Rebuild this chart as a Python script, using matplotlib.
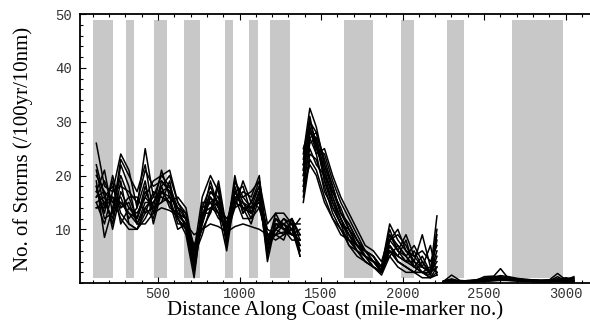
import numpy as np
import matplotlib
matplotlib.use("Agg")
from matplotlib import pyplot as plt
from matplotlib.ticker import MultipleLocator

# shaded stretches of coast (mile-marker start, end)
band_starts = [99, 303, 476, 656, 910, 1058, 1188, 1640, 1993, 2271, 2673]
band_ends = [223, 353, 557, 755, 959, 1114, 1312, 1819, 2073, 2376, 2983]

# mile markers of the three computed stretches
x_a = [121, 171, 221, 271, 321, 371, 421, 471, 521, 571, 621, 671, 721,
       771, 821, 871, 921, 971, 1021, 1071, 1121, 1171, 1221, 1271, 1321, 1371]
x_b = [1391, 1431, 1471, 1521, 1571, 1621, 1671, 1721, 1771, 1821, 1871,
       1921, 1971, 2021, 2071, 2121, 2171, 2211]
x_c = [2251, 2301, 2351, 2401, 2451, 2501, 2551, 2601, 2651, 2701, 2751,
       2801, 2851, 2901, 2951, 3001, 3051]

# storms per 100yr per 10nm, one row per model run
runs_a = [
    [26, 18, 17, 24, 21, 14, 25, 16, 20, 21, 15, 12, 5, 12, 19, 14, 9, 20, 13, 15, 19, 8, 10, 12, 10, 7],
    [19, 8.5, 14, 20, 16, 12, 18, 13, 19, 17, 13, 11, 3, 14, 15, 16, 7, 17, 18, 13, 17, 6, 11, 10, 11, 6],
    [17, 15, 12, 22, 18, 11, 15, 15, 17, 18, 14, 10, 4, 11, 16, 13, 10, 15, 14, 14, 15, 7, 9, 11, 9, 9],
    [15, 16, 18, 13, 11, 10, 13, 17, 16, 15, 12, 9, 1, 13, 14, 15, 8, 16, 12, 12, 14, 9, 8, 9, 10, 12],
    [14, 14, 16, 12, 10, 10, 14, 12, 18, 14, 13, 12, 6, 10, 13, 18, 9, 14, 15, 13, 16, 5, 12, 10, 8, 8],
    [18, 12, 13, 15, 13, 12, 17, 14, 21, 16, 11, 11, 3, 15, 15, 12, 11, 18, 13, 15, 18, 8, 10, 9, 12, 5],
    [14, 15, 16, 15, 13, 11, 11, 13, 14, 13.5, 12.5, 11, 9, 10, 11, 10.5, 9.5, 10.5, 11, 10.5, 10, 9, 9, 9.5, 9, 8],
    [20, 17, 10, 17, 14, 13, 16, 14, 15, 19, 12, 10, 2, 12, 17, 15, 8, 19, 15, 12, 17, 4, 11, 11, 10, 6],
    [16, 19, 15, 16, 12, 14, 19, 11, 17, 16, 14, 13, 5, 9, 14, 13, 6, 16, 16, 14, 15, 7, 13, 10, 9, 10],
    [18, 13, 20, 14, 15, 11, 14, 16, 16, 15, 10, 11, 4, 14, 18, 14, 9, 15, 17, 16, 20, 6, 10, 12, 11, 7],
    [22, 16, 11, 19, 11, 10, 12, 15, 18, 20, 15, 13, 5, 13, 13, 19, 10, 17, 14, 11, 16, 10, 9, 8, 12, 8],
    [15, 11, 17, 18, 17, 15, 21, 18, 19, 17, 13, 12, 7, 11, 16, 14, 12, 14, 19, 15, 14, 8, 12, 11, 9, 9],
    [17, 21, 13, 23, 20, 17, 22, 13, 17, 15, 16, 14, 6, 16, 20, 17, 7, 19, 16, 17, 19, 11, 13, 13, 11, 11],
    [21, 14, 19, 11, 14, 12, 16, 19, 20, 18, 12, 10, 3, 13, 15, 13, 9, 16, 15, 14, 18, 7, 11, 10, 10, 5],
    [16, 17, 15, 14, 16, 16, 13, 14, 15, 16, 14, 12, 4, 12, 17, 16, 11, 17, 14, 13, 17, 9, 10, 11, 12, 9],
]
runs_b = [
    [24, 32.5, 29, 22, 17, 14, 10, 8, 6, 4, 3, 11, 8, 6, 5, 3, 2, 12.5],
    [22, 30, 28, 23, 18, 13, 11, 8, 5, 4, 2, 8, 9, 7, 4, 9, 3, 2],
    [20, 28, 26, 20, 15, 12, 9, 7, 6, 5, 3, 7, 5, 4, 3, 2, 1.5, 5],
    [18, 26, 27, 19, 14, 11, 9, 6, 5, 3, 2, 6, 4, 3, 2, 2, 1, 3],
    [21, 29, 25, 21, 16, 12, 8, 7, 5, 4, 2.5, 9, 6, 5, 3, 5, 2, 9],
    [16, 24, 23, 18, 13, 10, 8, 6, 4, 3, 2, 7, 4, 3, 2, 2, 1, 2],
    [19, 25, 22, 20, 17, 13, 10, 7, 5, 4, 3, 5, 7, 5, 3, 3, 2, 4],
    [23, 31, 25, 24, 19, 15, 12, 9, 6, 5, 3, 10, 6, 4, 4, 3, 7, 1.5],
    [17, 27, 24, 17, 14, 11, 7, 6, 4, 3, 2, 6, 5, 8, 3, 2, 2, 6],
    [20, 28, 27, 21, 16, 12, 9, 7, 5, 4, 2, 7, 5, 4, 6, 3, 2, 3],
    [15, 23, 21, 16, 12, 9, 8, 6, 5, 3, 2, 6, 4, 3, 2, 4, 1.5, 8],
    [21, 30, 26, 19, 15, 11, 10, 7, 6, 5, 2, 8, 10, 6, 4, 2, 3, 2],
    [25, 29, 24, 25, 20, 16, 13, 10, 7, 6, 4, 9, 7, 5, 7, 4, 2, 10],
    [18, 22, 20, 15, 12, 10, 7, 5, 4, 3, 1.5, 5, 3, 2, 2, 1, 1, 1.5],
    [22, 27, 28, 22, 18, 13, 11, 8, 6, 4, 3, 8, 6, 9, 5, 6, 4, 7],
]
runs_c = [
    [0.3, 1.5, 0.5, 0.4, 0.6, 0.9, 1.0, 2.7, 0.8, 0.7, 0.6, 0.5, 0.5, 0.6, 1.8, 0.6, 1.2],
    [0.2, 0.3, 0.3, 0.4, 0.5, 1.2, 1.3, 1.1, 1.0, 0.8, 0.6, 0.5, 0.4, 0.4, 0.4, 0.5, 0.3],
    [0.4, 0.5, 0.2, 0.3, 0.4, 0.6, 0.8, 0.9, 0.7, 0.6, 0.5, 0.4, 0.3, 0.4, 0.5, 0.3, 0.6],
    [0.1, 0.2, 0.2, 0.2, 0.3, 0.5, 0.6, 0.7, 0.6, 0.5, 0.4, 0.3, 0.3, 0.3, 0.3, 0.2, 0.4],
    [0.3, 0.4, 0.3, 0.3, 0.5, 0.8, 1.1, 1.4, 1.2, 0.9, 0.7, 0.6, 0.5, 0.5, 0.6, 0.8, 0.5],
    [0.2, 0.3, 0.4, 0.2, 0.3, 0.4, 0.5, 0.6, 0.5, 0.4, 0.4, 0.3, 0.2, 0.3, 0.4, 0.3, 0.2],
    [0.3, 0.6, 0.3, 0.4, 0.4, 0.7, 0.9, 1.0, 0.9, 0.7, 0.6, 0.5, 0.4, 0.5, 0.7, 1.0, 0.8],
    [0.2, 0.4, 0.2, 0.3, 0.3, 0.5, 0.7, 0.8, 0.8, 0.6, 0.5, 0.4, 0.4, 0.4, 0.4, 0.4, 0.3],
    [0.4, 0.8, 0.4, 0.3, 0.5, 0.6, 0.8, 1.2, 0.9, 0.8, 0.6, 0.5, 0.5, 0.6, 0.8, 0.5, 1.0],
    [0.1, 0.2, 0.1, 0.2, 0.2, 0.3, 0.4, 0.5, 0.5, 0.4, 0.3, 0.3, 0.2, 0.2, 0.3, 0.2, 0.2],
    [0.3, 0.3, 0.3, 0.5, 0.6, 0.9, 1.0, 1.0, 0.9, 0.8, 0.7, 0.6, 0.5, 0.5, 0.6, 0.7, 0.9],
    [0.2, 0.5, 0.3, 0.3, 0.4, 0.5, 0.6, 0.8, 0.7, 0.5, 0.5, 0.4, 0.3, 0.4, 1.2, 0.4, 0.5],
]

fig = plt.figure(figsize=(5.9, 3.21), dpi=100)
ax = fig.add_axes([0.1356, 0.118, 0.8644, 0.838])

for s, e in zip(band_starts, band_ends):
    ax.fill_between([s, e], 1, 49, color='#c8c8c8', lw=0, zorder=1)

for xs, runs in [(x_a, runs_a), (x_b, runs_b), (x_c, runs_c)]:
    for r in runs:
        ax.plot(xs, r, color='black', lw=1.1, zorder=2)

ax.set_xlim(21, 3150)
ax.set_ylim(0, 50)

ax.xaxis.set_minor_locator(MultipleLocator(100))
ax.yaxis.set_minor_locator(MultipleLocator(2))
ax.set_xticks([500, 1000, 1500, 2000, 2500, 3000])
ax.set_yticks([10, 20, 30, 40, 50])

ax.tick_params(which='both', direction='in', top=True, right=False, width=0.8)
ax.tick_params(which='major', length=4)
ax.tick_params(which='minor', length=2)
ax.tick_params(axis='x', pad=3)
ax.tick_params(axis='y', pad=6)
for lab in ax.get_xticklabels() + ax.get_yticklabels():
    lab.set_fontfamily('Liberation Mono')
    lab.set_fontsize(10)
    lab.set_color('#333333')

ax.spines['right'].set_visible(False)
for sp in ['left', 'bottom', 'top']:
    ax.spines[sp].set_linewidth(1.3)

ax.set_xlabel('Distance Along Coast (mile-marker no.)', family='Liberation Serif', fontsize=15, labelpad=-1)
ax.set_ylabel('No. of Storms (/100yr/10nm)', family='Liberation Serif', fontsize=15, labelpad=16)

fig.savefig('out.png', dpi=100)
